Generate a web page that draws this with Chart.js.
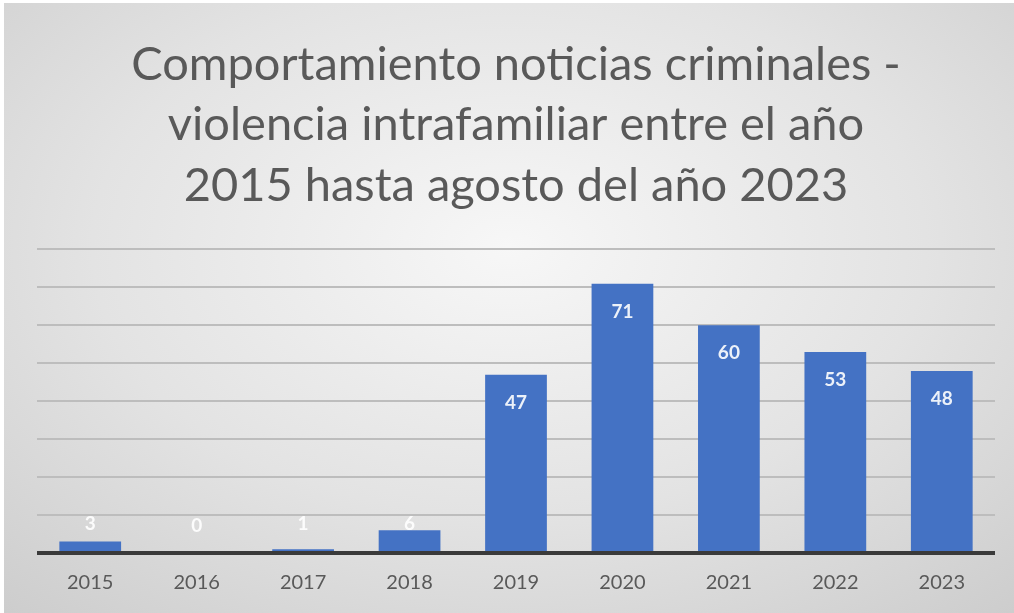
<!DOCTYPE html>
<html>
<head>
<meta charset="utf-8">
<script src="https://cdn.jsdelivr.net/npm/chart.js@4"></script>
<style>
  html, body { margin: 0; padding: 0; background: #ffffff; }
  #wrap {
    position: absolute; left: 4px; top: 3px; width: 1010px; height: 610px;
    background: radial-gradient(ellipse 75% 80% at 50% 40%, #f7f7f7 0%, #e3e3e3 55%, #cdcdcd 100%);
  }
</style>
</head>
<body>
<div id="wrap"><canvas id="vifChart" width="1010" height="610"></canvas></div>
<script>
const years = ['2015', '2016', '2017', '2018', '2019', '2020', '2021', '2022', '2023'];
const cases = [3, 0, 1, 6, 47, 71, 60, 53, 48];
const titleLines = [
  'Comportamiento noticias criminales -',
  'violencia intrafamiliar entre el año',
  '2015 hasta agosto del año 2023'
];

// white value labels near the top of each bar, kept above the axis for short bars
const barValues = {
  id: 'barValues',
  afterDatasetsDraw(chart) {
    const ctx = chart.ctx;
    const meta = chart.getDatasetMeta(0);
    ctx.save();
    ctx.font = 'bold 19px Lato, "Open Sans", sans-serif';
    ctx.textAlign = 'center';
    ctx.textBaseline = 'middle';
    ctx.fillStyle = 'rgba(255,255,255,0.9)';
    meta.data.forEach((bar, i) => {
      const y = Math.min(bar.y + 28, bar.base - 27);
      ctx.fillText(String(cases[i]), bar.x, y);
    });
    ctx.restore();
  }
};

const ctx = document.getElementById('vifChart').getContext('2d');
new Chart(ctx, {
  type: 'bar',
  data: {
    labels: years,
    datasets: [{
      data: cases,
      backgroundColor: '#4472c4',
      barPercentage: 0.58,
      categoryPercentage: 1.0
    }]
  },
  options: {
    responsive: false,
    animation: false,
    layout: { padding: { left: 33, right: 19, top: 0, bottom: 0 } },
    plugins: {
      legend: { display: false },
      tooltip: { enabled: false },
      title: {
        display: true,
        text: titleLines,
        color: '#595959',
        font: { family: 'Lato, "Open Sans", sans-serif', size: 47, weight: 'normal', lineHeight: 1.28 },
        padding: { top: 32, bottom: 34 }
      }
    },
    scales: {
      x: {
        grid: { display: false, drawTicks: false },
        border: { display: false },
        ticks: {
          color: '#595959',
          font: { family: 'Lato, "Open Sans", sans-serif', size: 20 },
          padding: 18
        }
      },
      y: {
        min: 0,
        max: 80,
        ticks: { display: false, stepSize: 10 },
        border: { display: false },
        grid: {
          drawTicks: false,
          color: (c) => c.tick.value === 0 ? '#3a3a3a' : '#bdbdbd',
          lineWidth: (c) => c.tick.value === 0 ? 4 : 2
        }
      }
    }
  },
  plugins: [barValues]
});
</script>
</body>
</html>
